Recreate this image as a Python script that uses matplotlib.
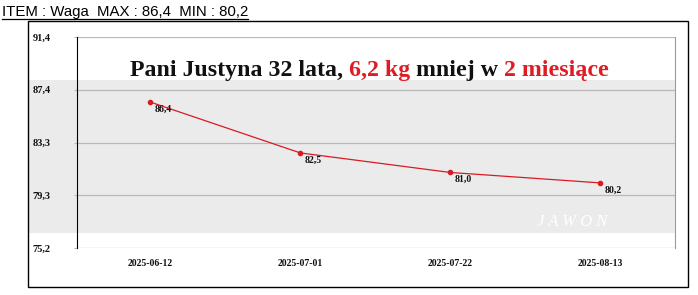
import matplotlib
matplotlib.use("Agg")
import matplotlib.pyplot as plt
from matplotlib.patches import Rectangle
from matplotlib.lines import Line2D

# data
dates = ["2025-06-12", "2025-07-01", "2025-07-22", "2025-08-13"]
weights = [86.4, 82.5, 81.0, 80.2]
y_ticks = [75.2, 79.25, 83.3, 87.35, 91.4]
y_tick_labels = ["75,2", "79,3", "83,3", "87,4", "91,4"]
header = "ITEM : Waga  MAX : 86,4  MIN : 80,2"
title_parts = [("Pani Justyna 32 lata, ", "#111111"), ("6,2 kg", "#e01b24"),
               (" mniej w ", "#111111"), ("2 miesiące", "#e01b24")]

W, H = 698, 295
RED = "#d91a22"

def fx(px):
    return px / W

def fy(py):
    return 1 - py / H

fig = plt.figure(figsize=(W / 100, H / 100), dpi=100)
fig.patch.set_facecolor("white")

# outer frame and gray band
fig.add_artist(Rectangle((fx(28), fy(287)), fx(688) - fx(28), fy(21) - fy(287),
                         transform=fig.transFigure, fill=False, edgecolor="black",
                         linewidth=1, zorder=-2))
fig.add_artist(Rectangle((fx(29), fy(233)), fx(676) - fx(29), fy(80) - fy(233),
                         transform=fig.transFigure, facecolor="#ebebeb",
                         edgecolor="none", zorder=-3))

ax = fig.add_axes([fx(77), fy(248), fx(675) - fx(77), fy(37) - fy(248)])
ax.set_facecolor("none")
ax.set_zorder(1)

x = list(range(len(dates)))
ax.plot(x, weights, color=RED, linewidth=0.9, marker="o", markersize=3,
        markerfacecolor=RED, markeredgecolor=RED)
for xi, w in zip(x, weights):
    ax.annotate(f"{w:.1f}".replace(".", ","), (xi, w), xytext=(3, -5),
                textcoords="offset points", ha="left", va="center",
                fontsize=7, fontweight="bold", family="Liberation Serif", color="#111111")

ax.set_xlim(-0.49, 3.5)
ax.set_ylim(y_ticks[0], y_ticks[-1])
ax.set_xticks(x)
ax.set_xticklabels(dates, fontsize=7, fontweight="bold", family="Liberation Serif")
ax.set_yticks(y_ticks)
ax.set_yticklabels(y_tick_labels, fontsize=7.5, fontweight="bold", family="Liberation Serif")
ax.tick_params(axis="x", length=0, pad=8, colors="#111111")
ax.tick_params(axis="y", length=2, pad=30, color="#b8b8b8", labelcolor="#111111")
for lbl in ax.get_yticklabels():
    lbl.set_horizontalalignment("left")
ax.grid(axis="y", color="#b8b8b8", linewidth=0.9)
ax.spines["left"].set_color("black")
ax.spines["right"].set_color("#9a9a9a")
ax.spines["top"].set_visible(False)
ax.spines["bottom"].set_visible(False)

# watermark
fig.text(fx(572), fy(222), "J A W O N", fontsize=12, style="italic",
         family="Liberation Serif", color="white", ha="center", va="center", zorder=2)

# title in pieces with different colours
prev = fig.text(fx(130), fy(76), title_parts[0][0], fontsize=17.2, fontweight="bold",
                family="Liberation Serif", color=title_parts[0][1], va="baseline",
                zorder=3)
for text, col in title_parts[1:]:
    prev = fig.add_artist(matplotlib.text.Annotation(
        text, xy=(1, 0), xycoords=prev, va="bottom", ha="left", fontsize=17.2,
        fontweight="bold", family="Liberation Serif", color=col, zorder=3))

# header with underline
hdr = fig.text(fx(2), fy(16), header, fontsize=10.8, family="Liberation Sans",
               va="baseline", ha="left")
fig.canvas.draw()
bb = hdr.get_window_extent().transformed(fig.transFigure.inverted())
fig.add_artist(Line2D([bb.x0, bb.x1], [fy(18.5), fy(18.5)], transform=fig.transFigure,
                      color="black", linewidth=0.9))

fig.savefig("out.png", dpi=100)
